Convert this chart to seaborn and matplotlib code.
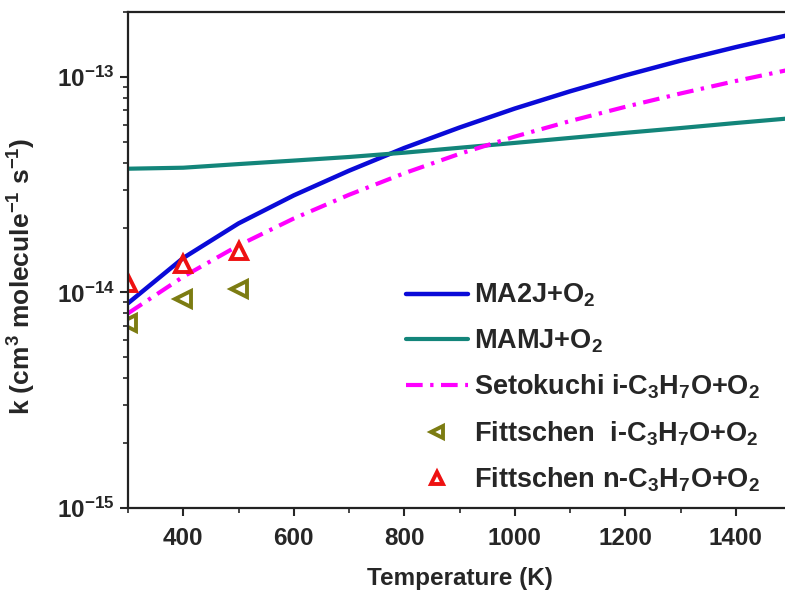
import matplotlib
matplotlib.use('Agg')
import matplotlib.pyplot as plt
import matplotlib.ticker as mticker
import pandas as pd
import seaborn as sns

# temperatures (K) for the model curves
temps = [300, 400, 500, 600, 700, 800, 900, 1000, 1100, 1200, 1300, 1400, 1500]
k_ma2j = [8.91e-15, 1.445e-14, 2.09e-14, 2.82e-14, 3.67e-14, 4.68e-14, 5.82e-14,
          7.13e-14, 8.57e-14, 1.016e-13, 1.189e-13, 1.374e-13, 1.574e-13]
k_mamj = [3.75e-14, 3.79e-14, 3.94e-14, 4.09e-14, 4.25e-14, 4.45e-14, 4.69e-14,
          4.94e-14, 5.21e-14, 5.50e-14, 5.79e-14, 6.11e-14, 6.43e-14]
k_setokuchi = [8.0e-15, 1.183e-14, 1.652e-14, 2.203e-14, 2.838e-14, 3.573e-14, 4.395e-14,
               5.284e-14, 6.237e-14, 7.261e-14, 8.375e-14, 9.57e-14, 1.084e-13]

# experimental points
exp_temps = [300, 400, 500]
k_fitt_iso = [7.2e-15, 9.3e-15, 1.04e-14]
k_fitt_n = [1.11e-14, 1.36e-14, 1.55e-14]

sns.set_theme(style='ticks')
plt.rcParams['font.family'] = ['Liberation Sans', 'DejaVu Sans']
plt.rcParams['font.weight'] = 'bold'
plt.rcParams['mathtext.fontset'] = 'custom'
plt.rcParams['mathtext.rm'] = 'Liberation Sans:bold'
plt.rcParams['mathtext.bf'] = 'Liberation Sans:bold'
plt.rcParams['mathtext.it'] = 'Liberation Sans:bold:italic'
plt.rcParams['mathtext.default'] = 'bf'

curves = pd.DataFrame({'T': temps, 'ma2j': k_ma2j, 'mamj': k_mamj, 'seto': k_setokuchi})
points = pd.DataFrame({'T': exp_temps, 'iso': k_fitt_iso, 'n': k_fitt_n})

fig = plt.figure(figsize=(7.85, 5.94), dpi=100)
ax = fig.add_axes([128 / 785, 1 - 508 / 594, 663 / 785, 496 / 594])

sns.lineplot(data=curves, x='T', y='ma2j', ax=ax, color='#0a0ad8', lw=3.2,
             label='MA2J+O$_2$')
sns.lineplot(data=curves, x='T', y='mamj', ax=ax, color='#13857a', lw=3,
             label='MAMJ+O$_2$')
sns.lineplot(data=curves, x='T', y='seto', ax=ax, color='#ff00ff', lw=3,
             dashes=[4, 1.8, 0.8, 1.8], label='Setokuchi i-C$_3$H$_7$O+O$_2$')
sns.lineplot(data=points, x='T', y='iso', ax=ax, color='#7c7c12', marker='<',
             linestyle='', ms=12, mfc='none', mec='#7c7c12', mew=2.8,
             label='Fittschen  i-C$_3$H$_7$O+O$_2$')
sns.lineplot(data=points, x='T', y='n', ax=ax, color='#ee1111', marker='^',
             linestyle='', ms=12, mfc='none', mec='#ee1111', mew=2.8,
             label='Fittschen n-C$_3$H$_7$O+O$_2$')

ax.set_yscale('log')
ax.set_xlim(300, 1500)
ax.set_ylim(1e-15, 2e-13)
ax.xaxis.set_major_locator(mticker.MultipleLocator(200))
ax.xaxis.set_minor_locator(mticker.MultipleLocator(100))
ax.yaxis.set_major_locator(mticker.FixedLocator([1e-15, 1e-14, 1e-13]))
ax.yaxis.set_major_formatter(mticker.LogFormatterSciNotation())
ax.yaxis.set_minor_locator(mticker.LogLocator(base=10, subs=range(2, 10), numticks=20))
ax.yaxis.set_minor_formatter(mticker.NullFormatter())

ax.tick_params(which='major', direction='out', length=6, width=1.5, labelsize=17.5)
ax.tick_params(axis='x', which='major', pad=8)
ax.tick_params(which='minor', direction='out', length=3.5, width=1.2)
for side in ['left', 'bottom', 'top', 'right']:
    ax.spines[side].set_visible(True)
    ax.spines[side].set_linewidth(1.6)
    ax.spines[side].set_color('#222222')

ax.set_xlabel('Temperature (K)', fontsize=17.5, fontweight='bold', labelpad=12)
ax.set_ylabel('k (cm$^3$ molecule$^{-1}$ s$^{-1}$)', fontsize=19,
              fontweight='bold')
ax.yaxis.set_label_coords(-0.135, 0.466)

leg = ax.legend(loc='upper left', bbox_to_anchor=(406 / 785, 1 - 282 / 594),
                bbox_transform=fig.transFigure, frameon=False, fontsize=19.5,
                handlelength=2.3, handletextpad=0.2, labelspacing=0.66,
                borderpad=0, borderaxespad=0, markerscale=0.75)

fig.savefig('out.png', dpi=100)
